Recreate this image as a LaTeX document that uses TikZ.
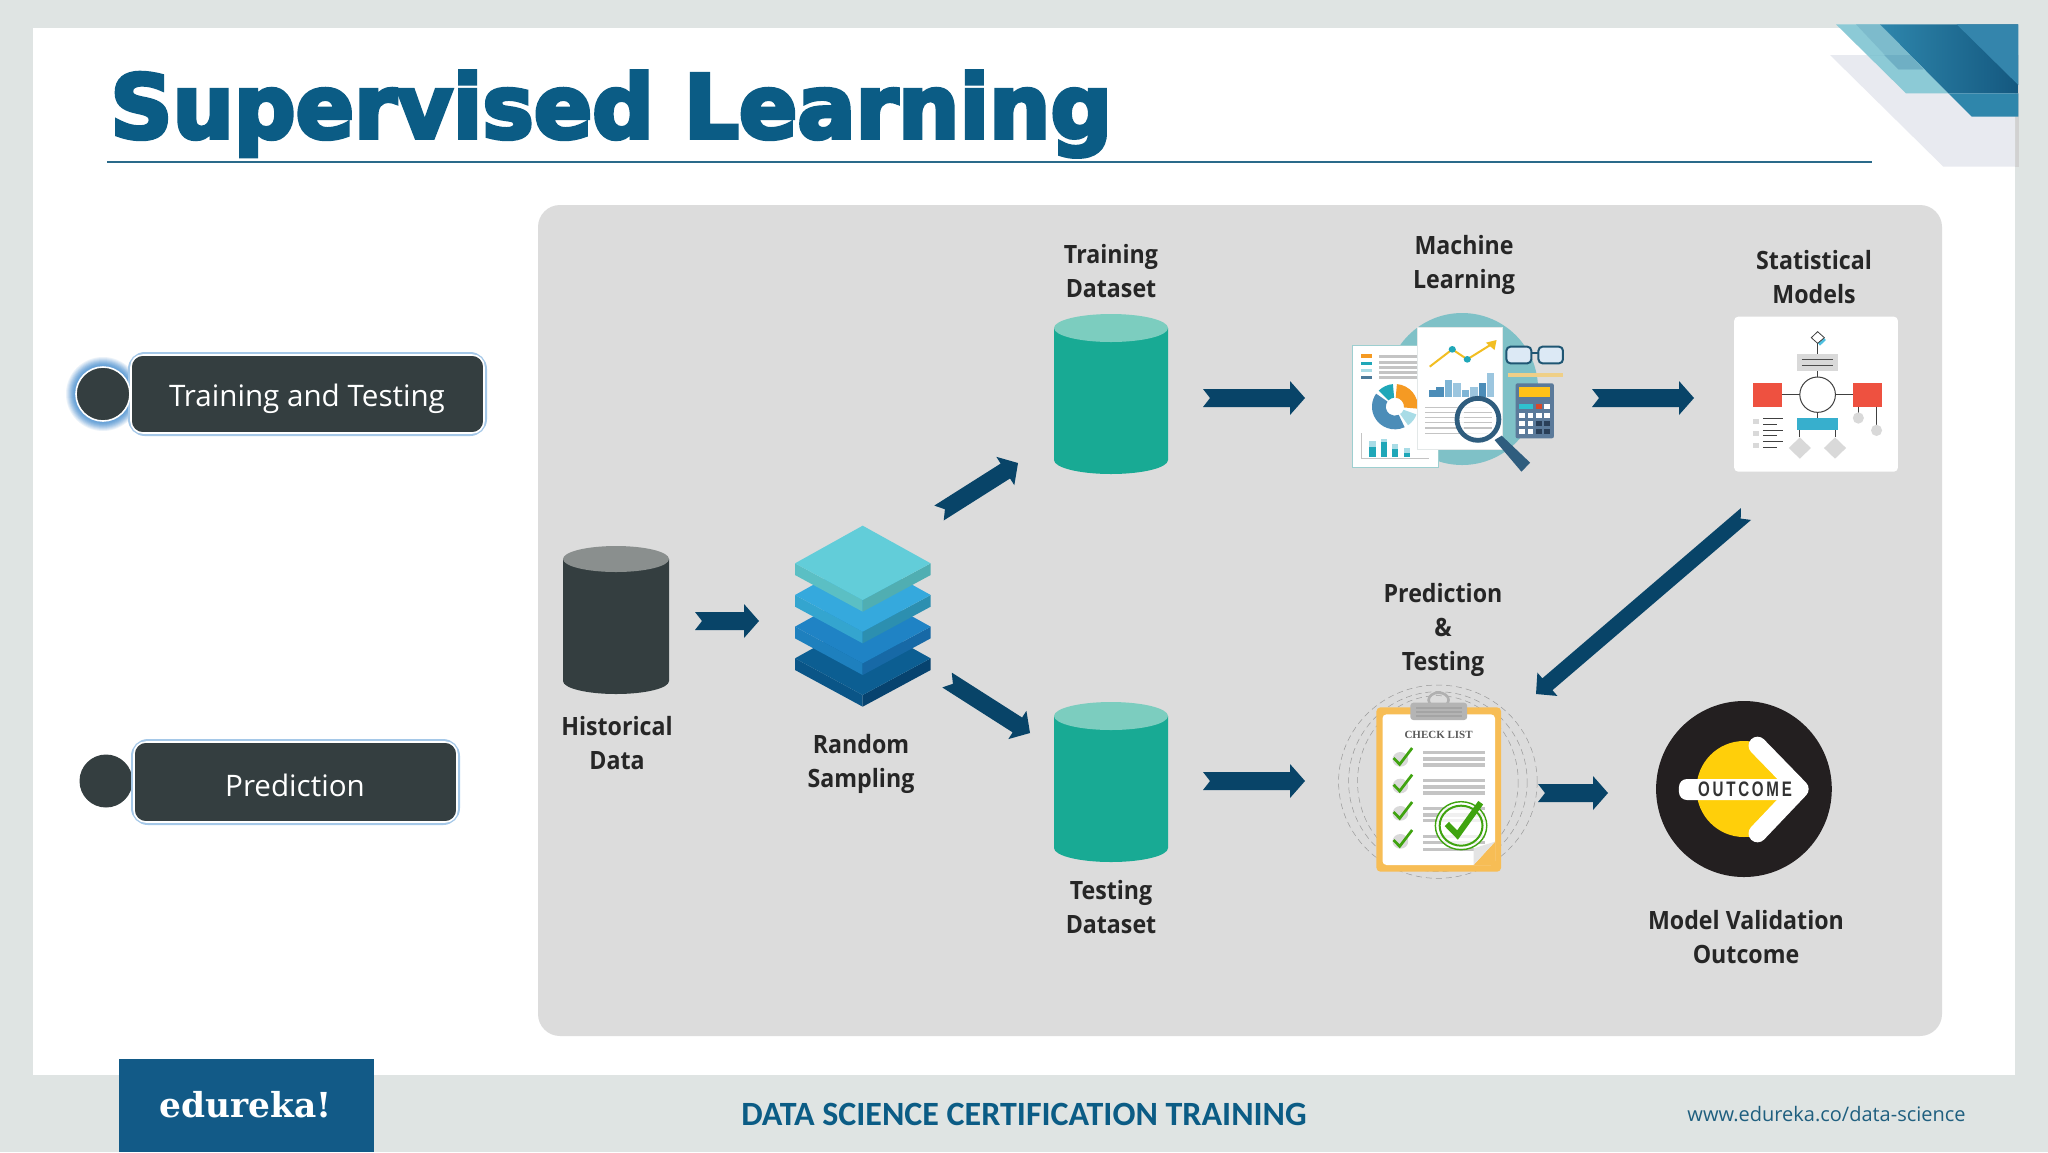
\documentclass[tikz,border=0pt]{standalone}
\usepackage{fontspec}
\usepackage{graphicx}
\setmainfont{Open Sans}
\newfontfamily\titlefont{DejaVu Sans}[BoldFeatures={FakeBold=4.5}]
\newfontfamily\labfont{Open Sans}[BoldFeatures={FakeStretch=0.92}]
\newfontfamily\carl{Carlito}
\newfontfamily\slab{DejaVu Serif}
\newfontfamily\serifb{Liberation Serif}
\newfontfamily\narrowb{Liberation Sans}[LetterSpace=18]
\usetikzlibrary{calc}
\definecolor{bgc}{HTML}{DFE4E3}
\definecolor{panelc}{HTML}{DCDCDC}
\definecolor{brand}{HTML}{0B5C85}
\definecolor{arrowc}{HTML}{084468}
\definecolor{slatec}{HTML}{343E40}
\definecolor{tealb}{HTML}{18AA94}
\definecolor{tealt}{HTML}{7CCDBF}
\definecolor{glowc}{HTML}{5B9BD5}
\definecolor{barg}{HTML}{C4C4C4}
\definecolor{navy}{HTML}{2F5D7E}
\definecolor{cy}{HTML}{1FA7B8}
\definecolor{redc}{HTML}{EE5140}
\definecolor{greenc}{HTML}{3FA30F}
\definecolor{shadeA}{HTML}{2E86AC}
\definecolor{shadeB}{HTML}{14587F}
\definecolor{lensc}{HTML}{DCE9F5}
\definecolor{glassc}{HTML}{1F5673}
\definecolor{webc}{HTML}{1F5F7F}
\definecolor{shadowc}{HTML}{E8EAF0}
\tikzset{
  hxc/.code={\definecolor{c#1}{HTML}{#1}\tikzset{color=c#1}},
  lab/.style={font=\fontsize{12.6}{17}\selectfont\labfont\bfseries,text=black!85,align=center,inner sep=0pt},
  pilltext/.style={font=\fontsize{14.8}{20}\selectfont,text=white,inner sep=0pt},
  pill/.style={fill=slatec,draw=white,line width=0.8pt,rounded corners=6pt},
  zoomA/.style={shift={(1300,290)},x=0.19771pt,y=-0.166667pt},
  zoomB/.style={shift={(1320,680)},x=0.178571pt,y=-0.166667pt},
  zoomC/.style={shift={(1780,0)},x=0.166667pt,y=-0.166667pt},
  zoomD/.style={shift={(770,510)},x=0.166667pt,y=-0.166667pt},
}
% block arrow between two named coordinates: from, to, shaft half width, head half width
\newcommand{\blockarrow}[4]{%
  \path coordinate (bh) at ($(#2)!7.5pt!(#1)$);
  \fill[arrowc]
    ($(#1)!#3!90:(#2)$) -- ($(bh)!#3!-90:(#1)$) -- ($(bh)!#4!-90:(#1)$) -- (#2)
    -- ($(bh)!#4!90:(#1)$) -- ($(bh)!#3!90:(#1)$) -- ($(#1)!#3!-90:(#2)$)
    -- ($(#1)!3.5pt!(#2)$) -- cycle;
}
% cylinder: name, cx, rx, ytop centre, ybot centre, body, ry, top
\newcommand{\cyl}[8]{%
  \fill[#6] (#2-#3,#4) -- (#2-#3,#5) arc[start angle=180,end angle=0,x radius=#3,y radius=#7]
     -- (#2+#3,#4) -- cycle;
  \fill[#8] (#2,#4) ellipse[x radius=#3,y radius=#7];
  \coordinate (#1) at (#2,{(#4+#5)/2});
}
% one layer of the stack in zoom D coordinates
\newcommand{\layer}[4]{%
  \begin{scope}[yshift=#1]
  \fill[#3] (75,160) -- (278,270) -- (278,305) -- (75,195) -- cycle;
  \fill[#4] (482,160) -- (278,270) -- (278,305) -- (482,195) -- cycle;
  \fill[#2] (278,47) -- (482,160) -- (278,270) -- (75,160) -- cycle;
  \end{scope}
}
\newcommand{\annsec}[3]{%
  \fill[#3] (240,350) ++(#1:58 and 68) arc[start angle=#1,end angle=#2,x radius=58,y radius=68]
    -- ($(240,350)+(#2:23 and 27)$) arc[start angle=#2,end angle=#1,x radius=23,y radius=27] -- cycle;
}
\newcommand{\tick}[2]{%
  \fill[black!15] (#1+22,#2+10) circle[radius=22];
  \draw[greenc,line width=1.35pt] (#1+3,#2+6) -- (#1+20,#2+25) -- (#1+55,#2-24);
}
\begin{document}
\begin{tikzpicture}[x=0.5pt,y=-0.5pt]
\useasboundingbox (0,0) rectangle (2048,1152);
\fill[bgc] (0,0) rectangle (2048,1152);
\fill[white] (33,28) rectangle (2015,1075);
% corner ornament
\begin{scope}[zoomC]
  \fill[black!18] (705,165) rectangle (716,500);
  \fill[shadowc] (150,165) -- (705,165) -- (705,500) -- (490,500) -- cycle;
  \fill[hxc=8CCAD6] (168,73) -- (300,73) -- (505,280) -- (378,280) -- cycle;
  \fill[hxc=7DBBCC] (228,73) -- (300,73) -- (430,208) -- (355,208) -- cycle;
  \fill[hxc=6FAFC4] (270,165) -- (390,165) -- (430,208) -- (355,208) -- (312,165) -- cycle;
  \shade[left color=shadeA,right color=shadeB] (300,73) -- (715,73) -- (715,280) -- (505,280) -- cycle;
  \fill[hxc=3485AC] (530,73) -- (715,73) -- (715,255) -- cycle;
  \fill[hxc=2F86AB] (505,280) -- (715,280) -- (715,350) -- (575,350) -- cycle;
\end{scope}
% title
\node[anchor=base west,inner sep=0pt,text=brand] (title) at (110,138)
  {\scalebox{0.98}[1]{\titlefont\bfseries\fontsize{44}{46}\selectfont Supervised Learning}};
\coordinate (ruleL) at (107,162);
\coordinate (ruleR) at (1872,162);
\draw[hxc=2A6A8A,line width=0.8pt] (ruleL) -- (ruleR);
% panel
\fill[panelc,rounded corners=11pt] (538,205) rectangle (1942,1036);
% left column
\foreach \r/\o in {37/.12,36/.13,35/.15,34/.18,33/.20,32/.24,31/.28,30/.32,29/.36}
  \fill[glowc,opacity=\o] (103,394) circle[radius=\r];
\draw[glowc!55!white,line width=3pt,rounded corners=7pt] (131,355) rectangle (484,433);
\node[draw=white,line width=0.8pt,fill=slatec,circle,minimum size=27pt,inner sep=0pt] (c1) at (103,394) {};
\path[pill] (131,355) rectangle (484,433);
\node[pilltext] (t1) at (307,399) {Training and Testing};
\node[fill=slatec,circle,minimum size=26.5pt,inner sep=0pt] (c2) at (106,781) {};
\draw[glowc!55!white,line width=3pt,rounded corners=7pt] (134,742) rectangle (457,822);
\path[pill] (134,742) rectangle (457,822);
\node[pilltext] (t2) at (295,785) {Prediction};
% cylinders
\cyl{hist}{616}{53}{559}{681}{slatec}{13}{hxc=8A8F8E}
\cyl{train}{1111}{57}{328}{460}{tealb}{14}{tealt}
\cyl{test}{1111}{57}{716}{848}{tealb}{14}{tealt}
% stack
\begin{scope}[zoomD]
  \layer{-47.5pt}{hxc=0C5E92}{hxc=0A5587}{hxc=07436F}
  \layer{-31.67pt}{hxc=1F83C5}{hxc=1E80BE}{hxc=1769A6}
  \layer{-15.83pt}{hxc=35A9DD}{hxc=34A5CF}{hxc=2C8FB0}
  \layer{0pt}{hxc=62CDD9}{hxc=5BBFC4}{hxc=50AEB2}
  \coordinate (rand) at (278,320);
\end{scope}
% machine learning icon
\begin{scope}[zoomA]
  \fill[hxc=7FC1C7] (410,297) ellipse[x radius=192,y radius=228];
  \draw[hxc=9DCFD0,fill=white,line width=0.5pt] (133,167) rectangle (350,533);
  \fill[hxc=F59A23] (155,193) rectangle (183,203);
  \fill[cy] (155,215) rectangle (183,225);
  \fill[hxc=A9DCE6] (155,236) rectangle (183,246);
  \fill[hxc=4C7A9A] (155,258) rectangle (183,268);
  \foreach \y in {195,212,228,243,258} \fill[barg] (200,\y) rectangle (297,\y+10);
  \annsec{-85}{5}{hxc=F59A23}
  \annsec{20}{55}{hxc=A9DCE6}
  \annsec{65}{215}{hxc=4C8DB8}
  \annsec{225}{265}{cy}
  \draw[barg,line width=0.5pt] (156,430) -- (156,505) -- (325,505);
  \foreach \xa/\ya/\yb in {175/452/470,205/448/456,233/462/478,262/475/488}
    \fill[hxc=A9DCE6] (\xa,\ya) rectangle (\xa+16,\yb);
  \foreach \xa/\yb in {175/470,205/456,233/478,262/488}
    \fill[cy] (\xa,\yb) rectangle (\xa+16,500);
  \draw[hxc=E3E8E8,fill=white,line width=0.5pt] (297,113) rectangle (513,478);
  \draw[hxc=F2BE22,line width=1pt] (328,230) -- (385,178) -- (423,208) -- (488,160);
  \fill[hxc=F2BE22] (497,150) -- (470,158) -- (492,180) -- cycle;
  \fill[cy] (385,178) ellipse[x radius=9,y radius=10];
  \fill[cy] (423,208) ellipse[x radius=9,y radius=10];
  \foreach \x/\y/\c in {325/300/4C8DB8,345/292/4C8DB8,367/270/7FB5D5,388/278/9CC6DF,410/300/7FB5D5,431/292/9CC6DF,452/278/4C8DB8,473/250/9CC6DF}
    \fill[hxc=\c] (\x,\y) rectangle (\x+18,320);
  \foreach \y in {350,365,380,395,412,428}
    \fill[barg] (317,\y) rectangle (475,\y+5);
  \fill[navy] (492,450) -- (510,437) -- (582,518) -- (560,545) -- cycle;
  \draw[navy,line width=2.4pt,fill=white,fill opacity=.75] (450,388) ellipse[x radius=53,y radius=63];
  \foreach \y in {365,380,395,412}
    \fill[barg] (415,\y) rectangle (486,\y+5);
  \draw[glassc,fill=lensc,line width=1pt,rounded corners=2pt] (522,170) rectangle (585,220);
  \draw[glassc,fill=lensc,line width=1pt,rounded corners=2pt] (603,170) rectangle (665,220);
  \draw[glassc,line width=1pt] (585,190) -- (603,190);
  \fill[hxc=EFCF87] (525,250) rectangle (665,260);
  \fill[hxc=5B7A9A,rounded corners=1pt] (545,280) rectangle (642,445);
  \fill[hxc=FFC218] (555,292) rectangle (632,322);
  \fill[hxc=2FC2CF] (555,342) rectangle (590,358);
  \fill[hxc=D9482B] (597,342) rectangle (611,358);
  \fill[white] (618,342) rectangle (632,358);
  \foreach \y in {368,392,418} {
    \foreach \x in {555,576} \fill[white] (\x,\y) rectangle (\x+14,\y+15);
    \fill[white] (597,\y) rectangle (611,\y+15);
    \fill[white] (618,\y) rectangle (632,\y+15);
  }
  \foreach \y in {392,418} {
    \fill[hxc=2A3F58] (597,\y) rectangle (611,\y+15);
    \fill[hxc=2A3F58] (618,\y) rectangle (632,\y+15);
  }
  \coordinate (ml) at (400,300);
\end{scope}
% statistical models card
\begin{scope}[zoomA]
  \fill[white,rounded corners=2pt] (1098,80) rectangle (1512,545);
  \draw[black!75,line width=0.4pt] (1309,150) -- (1309,195);
  \draw[black!75,line width=0.4pt] (1309,240) -- (1309,262);
  \draw[black!75,line width=0.4pt] (1220,314) -- (1264,314);
  \draw[black!75,line width=0.4pt] (1354,314) -- (1398,314);
  \draw[black!75,line width=0.4pt] (1309,368) -- (1309,385);
  \fill[hxc=4FC0E0] (1318,135) -- (1330,150) -- (1315,167) -- (1303,150) -- cycle;
  \draw[black!75,fill=white,line width=0.4pt] (1309,125) -- (1326,143) -- (1309,160) -- (1293,143) -- cycle;
  \fill[black!15] (1257,192) rectangle (1361,242);
  \draw[black!70,line width=0.4pt] (1269,208) -- (1348,208) (1269,226) -- (1348,226);
  \fill[redc] (1146,280) rectangle (1220,350);
  \fill[redc] (1398,280) rectangle (1472,350);
  \draw[black!75,fill=white,line width=0.5pt] (1309,314) ellipse[x radius=45,y radius=53];
  \fill[hxc=37AFCD] (1256,385) rectangle (1361,420);
  \draw[black!75,line width=0.4pt] (1412,350) -- (1412,370) (1458,350) -- (1458,405)
     (1264,420) -- (1264,440) (1353,420) -- (1353,440);
  \fill[black!15] (1412,384) ellipse[x radius=14,y radius=17];
  \fill[black!15] (1458,421) ellipse[x radius=14,y radius=17];
  \fill[black!15] (1264,442) -- (1292,474) -- (1264,506) -- (1236,474) -- cycle;
  \fill[black!15] (1353,442) -- (1381,474) -- (1353,506) -- (1325,474) -- cycle;
  \foreach \y in {387,422,458} \fill[black!15] (1146,\y) rectangle (1160,\y+15);
  \draw[black!75,line width=0.4pt] (1172,384) -- (1222,384) (1172,402) -- (1205,402) (1172,420) -- (1222,420)
     (1172,437) -- (1205,437) (1172,455) -- (1222,455) (1172,473) -- (1205,473);
  \coordinate (sm) at (1305,312);
\end{scope}
% checklist icon
\begin{scope}[zoomB]
  \foreach \rx/\ry in {278/290,250/270,225/258}
    \draw[black!40,densely dashed,line width=0.25pt] (330,305) ellipse[x radius=\rx,y radius=\ry];
  \draw[hxc=B0B0B0,line width=1.3pt] (332,60) ellipse[x radius=28,y radius=22];
  \fill[hxc=F7BD55,rounded corners=2pt] (158,82) rectangle (507,575);
  \fill[white,rounded corners=2pt] (175,103) rectangle (490,555);
  \fill[hxc=B4B4B4,rounded corners=1.5pt] (253,68) rectangle (412,120);
  \foreach \y in {82,94,106} \fill[hxc=A4A4A4] (268,\y) rectangle (398,\y+4);
  \node[text=black!65,inner sep=0pt] (chk) at (332,165) {\serifb\bfseries\fontsize{5.5}{6}\selectfont CHECK LIST};
  \foreach \y in {213,232,250, 296,316,334, 380,400,417, 464,483,503}
    \fill[barg] (288,\y) rectangle (462,\y+10);
  \tick{203}{228}
  \tick{203}{308}
  \tick{203}{390}
  \tick{203}{474}
  \fill[white,opacity=.75] (395,437) circle[radius=72];
  \draw[greenc,line width=0.7pt] (395,437) circle[radius=72];
  \draw[greenc,line width=1pt] (395,437) circle[radius=60];
  \draw[greenc,line width=3pt] (355,432) -- (385,465) -- (450,368);
  \fill[hxc=F7BD55] (490,485) -- (490,555) -- (430,555) -- cycle;
  \fill[hxc=E4E4E4] (490,485) -- (430,505) -- (430,555) -- cycle;
  \coordinate (pred) at (330,320);
\end{scope}
% outcome icon
\begin{scope}[zoomB]
  \fill[hxc=231F20] (1187,327) ellipse[x radius=246,y radius=264];
  \fill[hxc=FFCF0A] (1187,327) ellipse[x radius=133,y radius=144];
  \draw[white,line width=9pt,line cap=round,line join=round] (1225,197) -- (1343,327) -- (1225,460);
  \fill[white,rounded corners=4pt] (1005,297) rectangle (1320,360);
  \node[text=black!80,inner sep=0pt] (oc) at (1190,329) {\scalebox{0.72}[1]{\narrowb\bfseries\fontsize{10.5}{10}\selectfont OUTCOME}};
  \coordinate (outc) at (1187,327);
\end{scope}
% labels
\node[lab] (l1) at (1111,271) {Training\\Dataset};
\node[lab] (l2) at (1464,265) {Machine\\Learning};
\node[lab] (l3) at (1814,277) {Statistical\\Models};
\node[lab] (l4) at (617,743) {Historical\\Data};
\node[lab] (l5) at (861,764) {Random\\Sampling};
\node[lab] (l6) at (1443,630) {Prediction\\\&\\Testing};
\node[lab] (l7) at (1111,907) {Testing\\Dataset};
\node[lab] (l8) at (1746,937) {Model Validation\\Outcome};
% connectors
\coordinate (a1s) at (695,621);  \coordinate (a1e) at (759,621);
\coordinate (a2s) at (939,513);  \coordinate (a2e) at (1018,463);
\coordinate (a3s) at (947,680);  \coordinate (a3e) at (1030,733);
\coordinate (a4s) at (1203,398); \coordinate (a4e) at (1305,398);
\coordinate (a5s) at (1203,781); \coordinate (a5e) at (1305,781);
\coordinate (a6s) at (1592,398); \coordinate (a6e) at (1694,398);
\coordinate (a7s) at (1746,514); \coordinate (a7e) at (1536,694);
\coordinate (a8s) at (1538,793); \coordinate (a8e) at (1608,793);
\blockarrow{a1s}{a1e}{4.5pt}{8.5pt}
\blockarrow{a2s}{a2e}{4.4pt}{8.4pt}
\blockarrow{a3s}{a3e}{4.4pt}{8.4pt}
\blockarrow{a4s}{a4e}{4.5pt}{8.5pt}
\blockarrow{a5s}{a5e}{4.5pt}{8.5pt}
\blockarrow{a6s}{a6e}{4.5pt}{8.5pt}
\blockarrow{a7s}{a7e}{3.9pt}{7.7pt}
\blockarrow{a8s}{a8e}{4.5pt}{8.5pt}
% footer
\fill[hxc=125A87] (119,1059) rectangle (374,1152);
\node[text=white,inner sep=0pt] (logo) at (246,1105) {\slab\bfseries\fontsize{17.2}{20}\selectfont edureka!};
\node[text=brand,inner sep=0pt] (foot) at (1024,1114) {\carl\bfseries\fontsize{17}{20}\selectfont DATA SCIENCE CERTIFICATION TRAINING};
\node[text=webc,inner sep=0pt,anchor=east] (web) at (1966,1114) {\fontsize{10}{12}\selectfont www.edureka.co/data-science};
\end{tikzpicture}
\end{document}
